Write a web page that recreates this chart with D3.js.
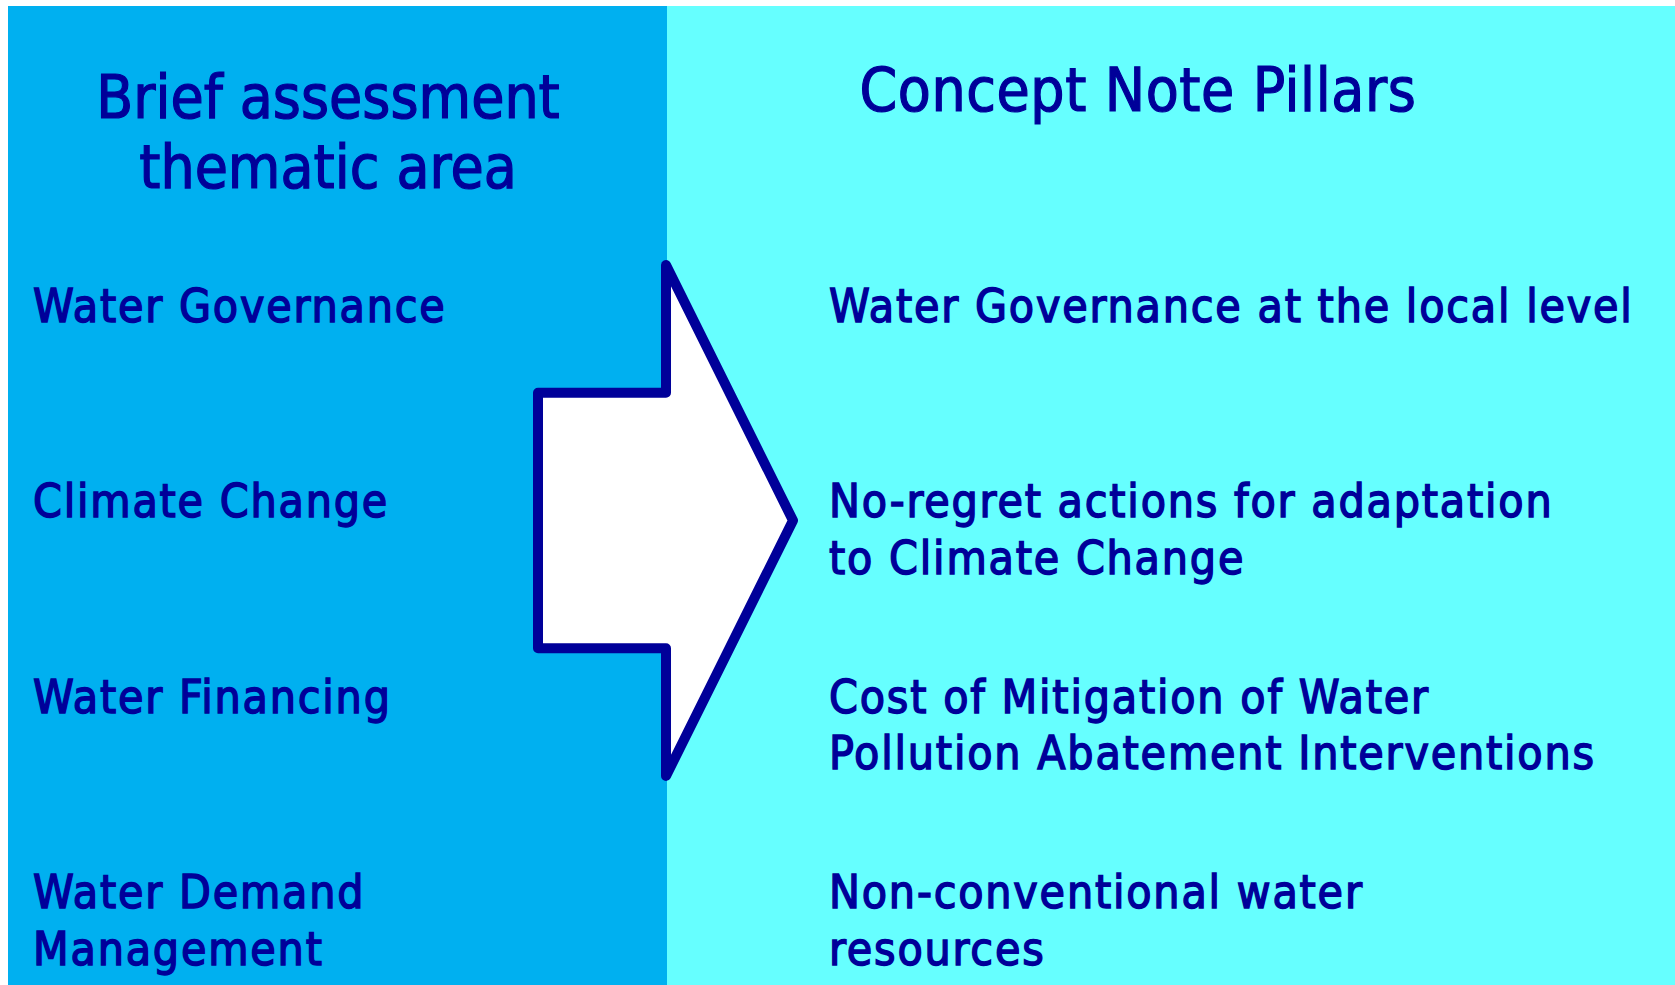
<!DOCTYPE html>
<meta charset="utf-8">
<script src="https://d3js.org/d3.v7.min.js"></script>
<style>
  body { margin: 0; background: #fff; }
  text { font-family: "DejaVu Sans Condensed", "DejaVu Sans", sans-serif; fill: #000099; stroke: #000099; }
</style>
<div id="my_dataviz"></div>
<script>

  // column headings
  var headings = [["Brief assessment", "thematic area"], ["Concept Note Pillars"]];

  // thematic areas (left) and the pillars they map to (right), one row each
  var areas = [
    ["Water Governance"],
    ["Climate Change"],
    ["Water Financing"],
    ["Water Demand", "Management"]
  ];
  var pillars = [
    ["Water Governance at the local level"],
    ["No-regret actions for adaptation", "to Climate Change"],
    ["Cost of Mitigation of Water", "Pollution Abatement Interventions"],
    ["Non-conventional water", "resources"]
  ];

  var width = 1675, height = 985;

  var svg = d3.select("#my_dataviz")
    .append("svg")
      .attr("width", width)
      .attr("height", height)
      .style("display", "block");

  // two panels
  var split = 667;
  svg.append("rect")
    .attr("x", 8).attr("y", 6)
    .attr("width", split - 8).attr("height", height - 6)
    .attr("fill", "#00B0F0");
  svg.append("rect")
    .attr("x", split).attr("y", 6)
    .attr("width", width - split).attr("height", height - 6)
    .attr("fill", "#66FFFF");

  // row positions
  var y = d3.scalePoint()
    .domain(d3.range(areas.length))
    .range([322, 908]);

  var lineH = 56.5;

  // big arrow in the middle
  var ax = d3.scaleLinear().domain([0, 1]).range([538, 793]);
  var ay = d3.scaleLinear().domain([0, 1]).range([265, 776]);
  var arrowPts = [[0.502, 0], [0.502, 0.25], [0, 0.25], [0, 0.75], [0.502, 0.75], [0.502, 1], [1, 0.5]];
  svg.append("path")
    .attr("d", d3.line().x(function(d) { return ax(d[0]); }).y(function(d) { return ay(d[1]); }).curve(d3.curveLinearClosed)(arrowPts))
    .attr("fill", "#fff")
    .attr("stroke", "#000099")
    .attr("stroke-width", 10)
    .attr("stroke-linejoin", "round");

  // headings
  var headX = [328, 1138], headY = [118, 111];
  headings.forEach(function(lines, i) {
    svg.append("text")
      .attr("text-anchor", "middle")
      .style("font-size", "60px")
      .style("stroke-width", "1.2px")
      .style("letter-spacing", i == 1 ? "0.6px" : "0px")
      .selectAll("tspan")
      .data(lines)
      .enter()
      .append("tspan")
        .attr("x", headX[i])
        .attr("y", function(d, j) { return headY[i] + j * 70; })
        .text(function(d) { return d; });
  });

  function drawColumn(rows, x) {
    svg.append("g")
      .selectAll("text")
      .data(rows)
      .enter()
      .append("text")
        .style("font-size", "46px")
        .style("stroke-width", "1.4px")
        .style("letter-spacing", "1.8px")
        .each(function(lines, i) {
          d3.select(this).selectAll("tspan")
            .data(lines)
            .enter()
            .append("tspan")
              .attr("x", x)
              .attr("y", function(d, j) { return y(i) + j * lineH; })
              .text(function(d) { return d; });
        });
  }
  drawColumn(areas, 33);
  drawColumn(pillars, 829);

</script>
